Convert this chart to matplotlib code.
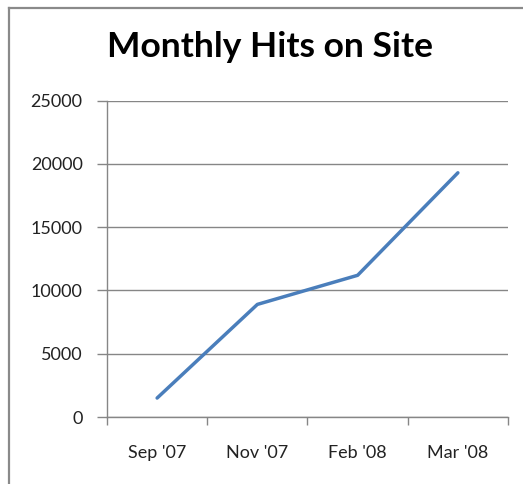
import matplotlib
matplotlib.use('Agg')
import matplotlib.pyplot as plt
from matplotlib.lines import Line2D

# data
months = ["Sep '07", "Nov '07", "Feb '08", "Mar '08"]
hits = [1500, 8900, 11200, 19300]
y_ticks = [0, 5000, 10000, 15000, 20000, 25000]

grid_grey = '#868686'
line_blue = '#4A7EBB'

plt.rcParams['font.family'] = ['Lato', 'DejaVu Sans']

fig = plt.figure(figsize=(5.23, 4.84), dpi=100)
ax = fig.add_axes([0.2046, 0.1384, 0.7667, 0.6536])

x = list(range(len(months)))
ax.plot(x, hits, color=line_blue, linewidth=2.5, solid_capstyle='round')

ax.set_xlim(-0.5, len(months) - 0.5)
ax.set_ylim(0, 25000)

# category labels centred, tick marks between categories
ax.set_xticks(x)
ax.set_xticklabels(months)
ax.set_xticks([i - 0.5 for i in range(len(months) + 1)], minor=True)
ax.tick_params(axis='x', which='major', length=0, pad=20, labelsize=13,
               labelcolor='#222222')
ax.tick_params(axis='x', which='minor', length=6, width=1, color=grid_grey,
               direction='out')

ax.set_yticks(y_ticks)
ax.set_yticklabels([str(v) for v in y_ticks])
ax.tick_params(axis='y', length=7, width=1, color=grid_grey, pad=10.5,
               labelsize=13, labelcolor='#222222')

ax.grid(axis='y', color=grid_grey, linewidth=1)
ax.set_axisbelow(True)
for side in ['top', 'right']:
    ax.spines[side].set_visible(False)
for side in ['left', 'bottom']:
    ax.spines[side].set_color(grid_grey)
    ax.spines[side].set_linewidth(1)

fig.text(0.516, 0.903, 'Monthly Hits on Site', ha='center', va='center',
         fontsize=25.5, fontweight='bold', color='black')

# outer chart frame (left and top edges only are visible)
fig.add_artist(Line2D([8.5 / 523, 8.5 / 523], [0, 1 - 7.5 / 484],
                      transform=fig.transFigure, color='#8a8a8a', linewidth=1.6))
fig.add_artist(Line2D([8.5 / 523, 1], [1 - 7.5 / 484, 1 - 7.5 / 484],
                      transform=fig.transFigure, color='#8a8a8a', linewidth=1.6))

fig.savefig('out.png', dpi=100)
